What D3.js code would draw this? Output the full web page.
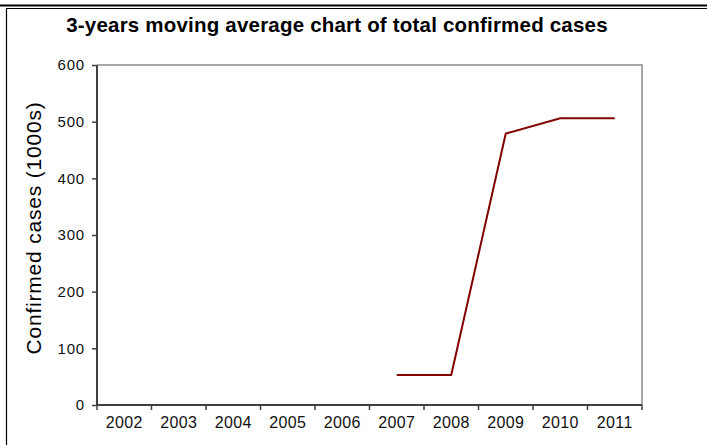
<!DOCTYPE html>
<html>
<head>
<meta charset="utf-8">
<script src="https://cdn.jsdelivr.net/npm/d3@7"></script>
<style>
  body { margin: 0; background: #fff; }
  svg { display: block; font-family: "Liberation Sans", Arial, sans-serif; }
</style>
</head>
<body>
<div id="chart"></div>
<script>
// Data
var years = ["2002", "2003", "2004", "2005", "2006", "2007", "2008", "2009", "2010", "2011"];
var movingAvg = [null, null, null, null, null, 53, 53, 479, 506, 506];
var yTicks = [0, 100, 200, 300, 400, 500, 600];

var width = 707;
var height = 445;
var margin = { top: 65, right: 65, bottom: 40, left: 97 };
var font = '"Liberation Sans", Arial, sans-serif';

var svg = d3.select('#chart')
              .append('svg')
              .attr('width', width)
              .attr('height', height);

// page frame lines
svg.append('line').attr('x1', 0).attr('x2', width).attr('y1', 5.5).attr('y2', 5.5)
    .attr('stroke', '#000').attr('stroke-width', 2);
svg.append('line').attr('x1', 6).attr('x2', width).attr('y1', 8.5).attr('y2', 8.5)
    .attr('stroke', '#000').attr('stroke-width', 1.2);
svg.append('line').attr('x1', 6.5).attr('x2', 6.5).attr('y1', 8).attr('y2', height)
    .attr('stroke', '#000').attr('stroke-width', 1.2);

// Scales
var xScale = d3.scaleBand()
                  .domain(years)
                  .range([margin.left, width - margin.right]);

var yScale = d3.scaleLinear()
                  .domain([0, 600])
                  .range([height - margin.bottom, margin.top]);

// plot area border (top + right)
svg.append('path')
    .attr('d', 'M' + margin.left + ',' + margin.top + 'H' + (width - margin.right) + 'V' + (height - margin.bottom))
    .attr('fill', 'none')
    .attr('stroke', '#8c8c8c')
    .attr('stroke-width', 1.5);

// Axes
var xAxis = d3.axisBottom(xScale).tickSize(0).tickPadding(12);
var gx = svg.append('g')
    .attr('transform', 'translate(0,' + (height - margin.bottom) + ')')
    .call(xAxis)
    .attr('font-family', font)
    .attr('font-size', 16);
gx.select('.domain').remove();
gx.selectAll('text')
    .style('letter-spacing', '0.4px')
    .attr('fill', '#111');

// x tick marks on band boundaries
var bounds = years.map(d => xScale(d)).concat([xScale.range()[1]]);
svg.append('g').selectAll('line')
    .data(bounds)
    .enter()
    .append('line')
    .attr('x1', d => d).attr('x2', d => d)
    .attr('y1', height - margin.bottom).attr('y2', height - margin.bottom + 5)
    .attr('stroke', '#404040')
    .attr('stroke-width', 1.5);

var yAxis = d3.axisLeft(yScale).tickValues(yTicks).tickSize(5).tickPadding(7);
var gy = svg.append('g')
    .attr('transform', 'translate(' + margin.left + ',0)')
    .call(yAxis)
    .attr('font-family', font)
    .attr('font-size', 15);
gy.select('.domain').remove();
gy.selectAll('line').attr('stroke', '#404040').attr('stroke-width', 1.5);
gy.selectAll('text')
    .style('letter-spacing', '0.8px')
    .attr('fill', '#111');

// axis lines
svg.append('line')
    .attr('x1', margin.left).attr('x2', margin.left)
    .attr('y1', margin.top).attr('y2', height - margin.bottom)
    .attr('stroke', '#404040').attr('stroke-width', 2);
svg.append('line')
    .attr('x1', margin.left).attr('x2', width - margin.right)
    .attr('y1', height - margin.bottom).attr('y2', height - margin.bottom)
    .attr('stroke', '#404040').attr('stroke-width', 2);

// Line
var line = d3.line()
    .defined(d => d.v !== null)
    .x(d => xScale(d.year) + xScale.bandwidth() / 2)
    .y(d => yScale(d.v));

svg.append('path')
    .datum(years.map((y, i) => ({ year: y, v: movingAvg[i] })))
    .attr('d', line)
    .attr('fill', 'none')
    .attr('stroke', '#800000')
    .attr('stroke-width', 2);

// Text
svg.append('text')
    .attr('x', 337)
    .attr('y', 32)
    .attr('text-anchor', 'middle')
    .style('font-size', '20.5px')
    .style('font-weight', 'bold')
    .style('letter-spacing', '0.2px')
    .text('3-years moving average chart of total confirmed cases');

svg.append('text')
    .attr('transform', 'translate(41,228) rotate(-90)')
    .attr('text-anchor', 'middle')
    .style('font-size', '21px')
    .style('letter-spacing', '0.8px')
    .text('Confirmed cases (1000s)');
</script>
</body>
</html>
